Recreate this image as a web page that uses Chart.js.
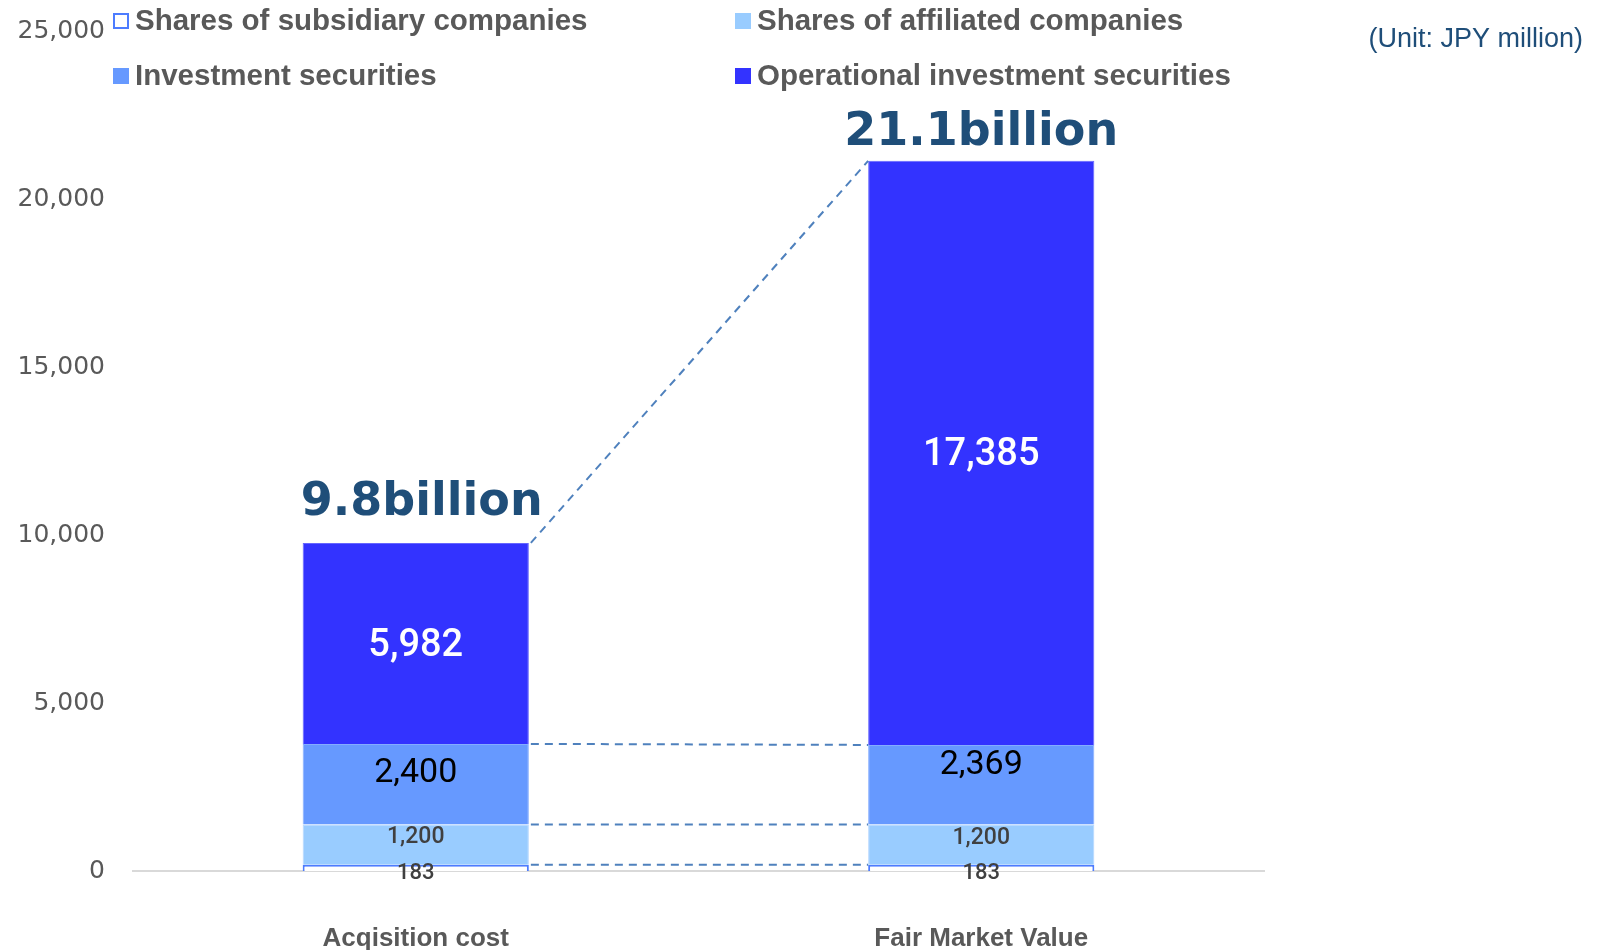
<!DOCTYPE html>
<html>
<head>
<meta charset="utf-8">
<script src="https://cdn.jsdelivr.net/npm/chart.js@4/dist/chart.umd.min.js"></script>
<style>
  html, body { margin: 0; padding: 0; background: #fff; }
  #wrap { width: 1603px; height: 950px; }
</style>
</head>
<body>
<div id="wrap"><canvas id="chart" width="1603" height="950"></canvas></div>
<script>
const CATEGORIES = ["Acqisition cost", "Fair Market Value"];
const SERIES_NAMES = [
  "Shares of subsidiary companies",
  "Shares of affiliated companies",
  "Investment securities",
  "Operational investment securities"
];
const SUBSIDIARY = [183, 183];
const AFFILIATED = [1200, 1200];
const INVESTMENT = [2400, 2369];
const OPERATIONAL = [5982, 17385];
const Y_TICKS = [0, 5000, 10000, 15000, 20000, 25000];
const UNIT_NOTE = "(Unit: JPY million)";

const NAVY = "#1f4e79";
const GREY = "#595959";

// per-series label look; dy nudges the number off the segment centre
const LABEL_STYLE = [
  { color: "#404040", font: "500 22px Roboto", dy: [6, 6] },
  { color: "#404040", font: "500 23px Roboto", dy: [-7, -6] },
  { color: "#000000", font: "34px Roboto", dy: [-11, -19] },
  { color: "#ffffff", font: "500 38px Roboto", dy: [3, 3] },
];
// where the "x.xbillion" totals sit relative to the top of each bar
const TOTAL_OFFSET = [{ dx: 6, dy: -40 }, { dx: 0, dy: -28 }];

function fmt(v) { return v.toLocaleString("en-US"); }

const segLabels = {
  id: "segLabels",
  afterDatasetsDraw(chart) {
    const ctx = chart.ctx;
    ctx.save();
    ctx.textAlign = "center";
    ctx.textBaseline = "middle";

    // dashed connectors between the two bars
    ctx.strokeStyle = "#4f81bd";
    ctx.lineWidth = 2;
    ctx.setLineDash([8, 6]);
    chart.data.datasets.forEach((ds, i) => {
      const [a, b] = chart.getDatasetMeta(i).data;
      ctx.beginPath();
      ctx.moveTo(a.x + a.width / 2 + 2, a.y);
      ctx.lineTo(b.x - b.width / 2, b.y);
      ctx.stroke();
    });
    ctx.setLineDash([]);

    // segment values
    chart.data.datasets.forEach((ds, i) => {
      const st = LABEL_STYLE[i];
      chart.getDatasetMeta(i).data.forEach((el, j) => {
        ctx.font = st.font;
        ctx.fillStyle = st.color;
        ctx.fillText(fmt(ds.data[j]), el.x, (el.y + el.base) / 2 + st.dy[j]);
      });
    });

    // totals above each bar
    const last = chart.getDatasetMeta(chart.data.datasets.length - 1).data;
    ctx.font = "bold 46px 'DejaVu Sans'";
    ctx.fillStyle = NAVY;
    CATEGORIES.forEach((c, j) => {
      const total = chart.data.datasets.reduce((s, ds) => s + ds.data[j], 0);
      const off = TOTAL_OFFSET[j];
      ctx.fillText((total / 1000).toFixed(1) + "billion", last[j].x + off.dx, last[j].y + off.dy);
    });
    ctx.restore();
  }
};

const legendGrid = {
  id: "legendGrid",
  afterDraw(chart) {
    const ctx = chart.ctx;
    const colX = [113, 735];
    const rowY = [21, 76];
    ctx.save();
    ctx.textBaseline = "middle";
    ctx.textAlign = "left";
    ctx.font = "bold 29.5px 'Liberation Sans'";
    chart.data.datasets.forEach((ds, i) => {
      const x = colX[i % 2];
      const y = rowY[Math.floor(i / 2)];
      ctx.fillStyle = ds.backgroundColor;
      ctx.fillRect(x, y - 8, 16, 16);
      if (ds.legendBorder) {
        ctx.strokeStyle = ds.borderColor;
        ctx.lineWidth = 2;
        ctx.strokeRect(x + 1, y - 7, 14, 14);
      }
      ctx.fillStyle = GREY;
      ctx.fillText(ds.label, x + 22, y + 1);
    });

    ctx.textAlign = "right";
    ctx.font = "27px 'Liberation Sans'";
    ctx.fillStyle = NAVY;
    ctx.fillText(UNIT_NOTE, 1583, 40);
    ctx.restore();
  }
};

new Chart(document.getElementById("chart"), {
  type: "bar",
  data: {
    labels: CATEGORIES,
    datasets: [
      { label: SERIES_NAMES[0], data: SUBSIDIARY, backgroundColor: "#ffffff", borderColor: "#4d7cff", borderWidth: 2, legendBorder: true },
      { label: SERIES_NAMES[1], data: AFFILIATED, backgroundColor: "#99ccff", borderColor: "#b3d6ff", borderWidth: 1 },
      { label: SERIES_NAMES[2], data: INVESTMENT, backgroundColor: "#6699ff", borderColor: "#85adff", borderWidth: 1 },
      { label: SERIES_NAMES[3], data: OPERATIONAL, backgroundColor: "#3333ff", borderColor: "#6666ff", borderWidth: 1 },
    ]
  },
  options: {
    responsive: false,
    animation: false,
    barPercentage: 0.8,
    categoryPercentage: 0.5,
    layout: { padding: { top: 31, right: 339, left: 0, bottom: 0 } },
    plugins: {
      legend: { display: false },
      tooltip: { enabled: false }
    },
    scales: {
      x: {
        stacked: true,
        grid: { display: false, drawTicks: false },
        border: { display: true, color: "#d9d9d9", width: 2 },
        ticks: {
          color: GREY,
          font: { family: "Liberation Sans", size: 26, weight: "bold" },
          padding: 52
        },
        afterFit: (s) => { s.height = 79; }
      },
      y: {
        stacked: true,
        min: 0,
        max: 25000,
        afterBuildTicks: (s) => { s.ticks = Y_TICKS.map(v => ({ value: v })); },
        grid: { display: false, drawTicks: false },
        border: { display: false },
        ticks: {
          color: GREY,
          font: { family: "DejaVu Sans", size: 25 },
          padding: 28,
          callback: (v) => fmt(v)
        },
        // the label gap should not push the plot area down
        afterFit: (s) => { s.width = 133; s.paddingTop = 0; s.paddingBottom = 0; }
      }
    }
  },
  plugins: [segLabels, legendGrid]
});
</script>
</body>
</html>
